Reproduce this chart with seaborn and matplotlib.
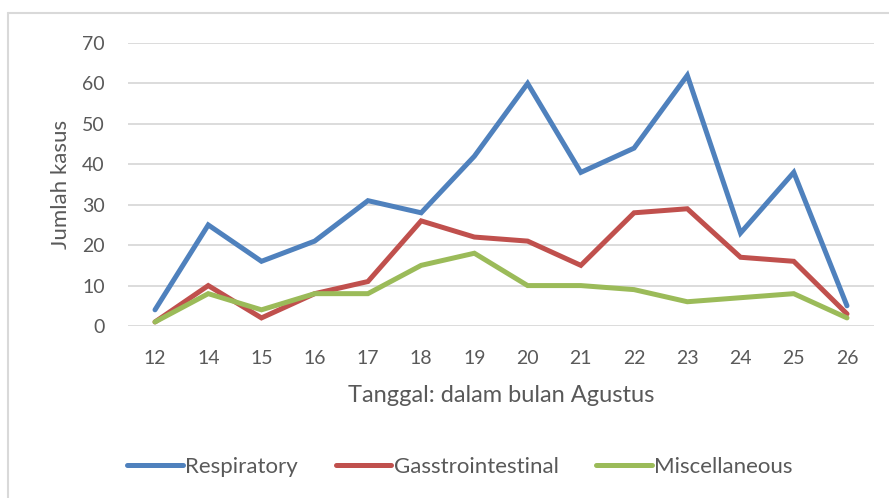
import matplotlib
matplotlib.use("Agg")
import matplotlib.pyplot as plt
import seaborn as sns
import pandas as pd
from matplotlib.lines import Line2D

dates = ["12", "14", "15", "16", "17", "18", "19", "20", "21", "22", "23", "24", "25", "26"]
respiratory = [4, 25, 16, 21, 31, 28, 42, 60, 38, 44, 62, 23, 38, 5]
gastro = [1, 10, 2, 8, 11, 26, 22, 21, 15, 28, 29, 17, 16, 3]
misc = [1, 8, 4, 8, 8, 15, 18, 10, 10, 9, 6, 7, 8, 2]
series_names = ["Respiratory", "Gasstrointestinal", "Miscellaneous"]
colors = ["#4F81BD", "#C0504D", "#9BBB59"]
yticks = [0, 10, 20, 30, 40, 50, 60, 70]

sns.set_theme(style="white")
plt.rcParams["font.family"] = ["Lato", "DejaVu Sans"]

df = pd.DataFrame({
    "pos": list(range(len(dates))) * 3,
    "value": respiratory + gastro + misc,
    "series": [series_names[0]] * len(dates) + [series_names[1]] * len(dates) + [series_names[2]] * len(dates),
})

fig = plt.figure(figsize=(8.89, 4.98), dpi=100)
ax = fig.add_axes([128.4 / 889, 1 - 326 / 498, (873.6 - 128.4) / 889, (326 - 43) / 498])

for y in yticks:
    ax.axhline(y, color="#D9D9D9", lw=1.3, zorder=0)

sns.lineplot(data=df, x="pos", y="value", hue="series", palette=colors,
             hue_order=series_names, lw=3.6, ax=ax, legend=False,
             solid_capstyle="round", solid_joinstyle="miter")

ax.set_xlim(-0.5, len(dates) - 0.5)
ax.set_ylim(0, 70)
ax.set_xticks(range(len(dates)))
ax.set_xticklabels(dates)
ax.set_yticks(yticks)
ax.tick_params(axis="both", length=0, labelsize=14, labelcolor="#595959")
ax.tick_params(axis="x", pad=17)
ax.tick_params(axis="y", pad=17)
for s in ax.spines.values():
    s.set_visible(False)
ax.set_xlabel("Tanggal: dalam bulan Agustus", fontsize=17, color="#595959", labelpad=13)
ax.set_ylabel("Jumlah kasus", fontsize=16, color="#595959", labelpad=8)
ax.patch.set_alpha(0)

handles = [Line2D([0], [0], color=c, lw=3.6, solid_capstyle="round") for c in colors]
fig.legend(handles, series_names, loc="center", bbox_to_anchor=(460 / 889, 1 - 467 / 498),
           ncol=3, frameon=False, fontsize=16, labelcolor="#595959",
           handlelength=2.5, handletextpad=0.1, columnspacing=1.7)

# outer frame (top and left edges visible)
fig.add_artist(Line2D([8 / 889, 1], [1 - 13 / 498, 1 - 13 / 498], color="#D9D9D9", lw=1.5, transform=fig.transFigure))
fig.add_artist(Line2D([8 / 889, 8 / 889], [0, 1 - 13 / 498], color="#D9D9D9", lw=1.5, transform=fig.transFigure))

fig.savefig("out.png", dpi=100)
